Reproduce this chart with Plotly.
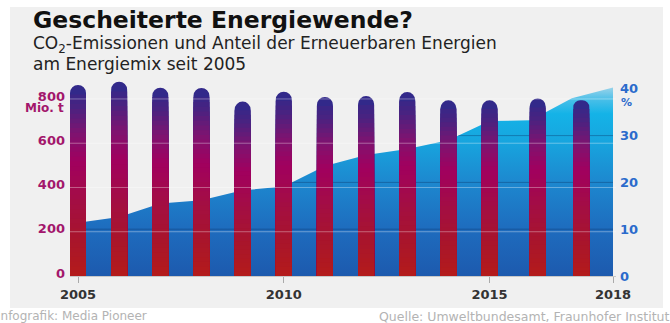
import numpy as np
import plotly.graph_objects as go
from plotly.colors import sample_colorscale

# ---------------- data ----------------
bar_years = [2005, 2006, 2007, 2008, 2009, 2010, 2011, 2012, 2013, 2014, 2015, 2016.17, 2017.23]
co2_mt = [863, 878, 851, 850, 788, 833, 809, 813, 831, 794, 794, 802, 794]

share_years = [2005, 2006, 2007, 2008, 2009, 2010, 2011, 2012, 2013, 2014, 2015, 2016, 2017, 2018]
share_pct = [11.4, 12.6, 15.5, 16.2, 18.3, 19.1, 23.5, 25.85, 27.15, 29.0, 33.1, 33.3, 38.0, 40.3]

x_ticks = [2005, 2010, 2015, 2018]
left_ticks = [0, 200, 400, 600, 800]
right_ticks = [0, 10, 20, 30, 40]

# ---------------- styles ----------------
BAR_SCALE = [[0.0, "#b41b1b"], [0.2, "#a8152c"], [0.4, "#a30d45"], [0.6, "#a1005f"],
             [0.75, "#7d1470"], [0.88, "#4a2280"], [1.0, "#2c2b8c"]]
AREA_SCALE = [[0.0, "#1d5aae"], [0.25, "#1e6cbe"], [0.5, "#1d88cf"], [0.72, "#17a6df"],
              [0.86, "#14b3e7"], [0.93, "#45bee8"], [1.0, "#9ad3ea"]]
MAGENTA = "#a3176c"
BLUE = "#2b6bcc"
FONT = "DejaVu Sans"

L, R, T, B = 70, 54, 80, 47
W, H = 670, 323
pw, ph = W - L - R, H - T - B
px_per_year = (613 - 78) / 13.0
x0 = 2005 - (78 - L) / px_per_year
x1 = x0 + pw / px_per_year
left_max = ph / 0.2213
right_max = ph / 4.68
bar_w = 16 / px_per_year


def xp(px):
    return (px - L) / pw


def yp(py):
    return (H - B - py) / ph


fig = go.Figure()

# renewable share area (base axis y, right side)
fig.add_trace(go.Scatter(
    x=share_years, y=share_pct, yaxis="y", mode="lines",
    line=dict(width=0, color="rgba(0,0,0,0)"), fill="tozeroy",
    fillgradient=dict(type="vertical", colorscale=AREA_SCALE, start=0, stop=max(share_pct)),
    hoverinfo="skip", showlegend=False))

# dark grid lines visible only inside the area
for lvl in right_ticks[1:-1]:
    xs = float(np.interp(lvl, share_pct, share_years))
    xs = max(xs, share_years[0])
    fig.add_trace(go.Scatter(
        x=[xs, share_years[-1]], y=[lvl, lvl], yaxis="y", mode="lines",
        line=dict(width=1, color="rgba(10,40,90,0.35)"),
        hoverinfo="skip", showlegend=False))

# CO2 bars with vertical gradient (overlaid bars, tallest first)
edges = list(np.linspace(0, 0.95, 39)) + [1.0]
for k in range(len(edges) - 1, 0, -1):
    top_f = edges[k]
    mid = (edges[k - 1] + edges[k]) / 2
    col = sample_colorscale(BAR_SCALE, [mid])[0]
    fig.add_trace(go.Bar(
        x=bar_years, y=[v * top_f for v in co2_mt], yaxis="y2", width=bar_w,
        marker=dict(color=col, line=dict(width=0),
                    cornerradius="50%" if k == len(edges) - 1 else 0),
        hoverinfo="skip", showlegend=False))

shapes = [dict(type="rect", xref="paper", yref="paper", x0=xp(10), x1=xp(663),
               y0=yp(308), y1=yp(7), fillcolor="#f0f0f0", line=dict(width=0), layer="below")]
for t in left_ticks[1:]:
    shapes.append(dict(type="line", xref="paper", yref="y2", x0=0, x1=1, y0=t, y1=t,
                       line=dict(color="rgba(255,255,255,0.35)", width=1), layer="above"))

annotations = [
    dict(text="Gescheiterte Energiewende?", x=xp(31), y=yp(20.5), xref="paper", yref="paper",
         xanchor="left", yanchor="middle", showarrow=False,
         font=dict(family=FONT, size=23.5, color="#111111", weight="bold")),
    dict(text="CO<sub>2</sub>-Emissionen und Anteil der Erneuerbaren Energien", x=xp(31), y=yp(44),
         xref="paper", yref="paper", xanchor="left", yanchor="middle", showarrow=False,
         font=dict(family=FONT, size=17, color="#222222")),
    dict(text="am Energiemix seit 2005", x=xp(31), y=yp(63.5),
         xref="paper", yref="paper", xanchor="left", yanchor="middle", showarrow=False,
         font=dict(family=FONT, size=17, color="#222222")),
    dict(text="Mio. t", x=xp(66), y=yp(108), xref="paper", yref="paper",
         xanchor="right", yanchor="middle", showarrow=False,
         font=dict(family=FONT, size=12, color=MAGENTA, weight="bold")),
    dict(text="%", x=xp(619), y=yp(102), xref="paper", yref="paper",
         xanchor="left", yanchor="middle", showarrow=False,
         font=dict(family=FONT, size=11, color=BLUE, weight="bold")),
    dict(text="Infografik: Media Pioneer", x=xp(-5), y=yp(316), xref="paper", yref="paper",
         xanchor="left", yanchor="middle", showarrow=False,
         font=dict(family=FONT, size=12, color="#b3b3b3")),
    dict(text="Quelle: Umweltbundesamt, Fraunhofer Institut", x=xp(672), y=yp(316),
         xref="paper", yref="paper", xanchor="right", yanchor="middle", showarrow=False,
         font=dict(family=FONT, size=12.5, color="#b3b3b3")),
]

fig.update_layout(
    width=W, height=H, margin=dict(l=L, r=R, t=T, b=B, pad=0),
    paper_bgcolor="white", plot_bgcolor="rgba(0,0,0,0)",
    barmode="overlay", template="none", showlegend=False,
    xaxis=dict(range=[x0, x1], tickvals=x_ticks, ticktext=[str(t) for t in x_ticks],
               showgrid=False, zeroline=False, showline=True, linecolor="#c8c8c8", linewidth=1,
               ticks="outside", ticklen=6, tickcolor="#aaaaaa", tickwidth=1,
               tickfont=dict(family=FONT, size=13, color="#333333", weight="bold")),
    yaxis=dict(range=[0, right_max], side="right", tickvals=right_ticks,
               showgrid=False, zeroline=False, showline=False, ticks="",
               ticklabelstandoff=3,
               tickfont=dict(family=FONT, size=13, color=BLUE, weight="bold")),
    yaxis2=dict(range=[0, left_max], side="left", overlaying="y", tickvals=left_ticks,
                showgrid=False, zeroline=False, showline=False, ticks="",
                ticklabelstandoff=4, ticklabelshift=-3,
                tickfont=dict(family=FONT, size=13, color=MAGENTA, weight="bold")),
    shapes=shapes, annotations=annotations,
)

fig.write_html("out.html")
